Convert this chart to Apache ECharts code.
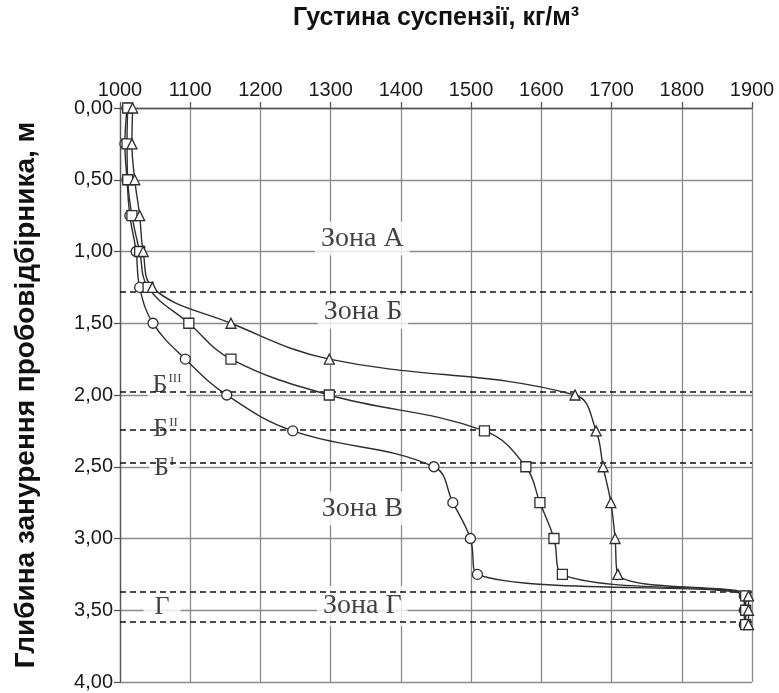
<!DOCTYPE html>
<html>
<head>
<meta charset="utf-8">
<script src="https://cdn.jsdelivr.net/npm/echarts@6/dist/echarts.min.js"></script>
<style>
html,body{margin:0;padding:0;background:#fff;}
#chart{width:779px;height:693px;}
</style>
</head>
<body>
<div id="chart"></div>
<script>
// Depth of sampler immersion, m
const depths = [0, 0.25, 0.5, 0.75, 1.0, 1.25, 1.5, 1.75, 2.0, 2.25, 2.5, 2.75, 3.0, 3.25, 3.4, 3.5, 3.6];
// Suspension density, kg/m3
const densityTriangle = [1018, 1017, 1021, 1028, 1033, 1046, 1158, 1298, 1648, 1678, 1688, 1699, 1705, 1709, 1895, 1895, 1895];
const densitySquare   = [1011, 1010, 1011, 1017, 1028, 1040, 1098, 1158, 1298, 1519, 1578, 1598, 1618, 1630, 1891, 1891, 1891];
const densityCircle   = [1010, 1007, 1010, 1014, 1023, 1028, 1047, 1093, 1152, 1246, 1447, 1474, 1499, 1509, 1889, 1889, 1889];
// Zone boundaries (depth, m)
const boundaries = [1.28, 1.98, 2.24, 2.47, 3.37, 3.58];
// Zone labels: [text, density, depth]
const zoneLabels = [
  ['Зона А', 1345, 0.91],
  ['Зона Б', 1346, 1.42],
  ['Зона В', 1345, 2.79],
  ['Зона Г', 1345, 3.47]
];
const subLabels = [
  ['{b|Б}{s|III}', 1067, 1.93],
  ['{b|Б}{s|II}', 1065, 2.24],
  ['{b|Б}{s|I}', 1063, 2.51],
  ['{b|Г}', 1060, 3.48]
];
const xTitle = 'Густина суспензії, кг/м³';
const yTitle = 'Глибина занурення пробовідбірника, м';

const zip = (xs) => xs.map((v, i) => [v, depths[i]]);

const lineColor = '#2e2e2e';
function dataSeries(vals, symbol, size) {
  return {
    type: 'line',
    data: zip(vals),
    smooth: 0.4,
    symbol: symbol,
    symbolSize: size,
    showAllSymbol: true,
    z: 5,
    lineStyle: { color: lineColor, width: 1.4 },
    itemStyle: { color: '#fff', borderColor: lineColor, borderWidth: 1.3 }
  };
}

const chart = echarts.init(document.getElementById('chart'));
const axisFont = { fontFamily: 'Liberation Sans', fontSize: 20, color: '#1a1a1a' };
chart.setOption({
  animation: false,
  backgroundColor: '#fff',
  grid: { left: 120, top: 108, width: 632, height: 574 },
  xAxis: {
    type: 'value', position: 'top', min: 1000, max: 1900, interval: 100,
    name: xTitle, nameLocation: 'middle', nameGap: 77,
    nameTextStyle: { fontFamily: 'Liberation Sans', fontSize: 25, fontWeight: 'bold', color: '#111' },
    axisLine: { show: true, lineStyle: { color: '#555', width: 1.3 } },
    axisTick: { show: true, length: 6, lineStyle: { color: '#555', width: 1.3 } },
    axisLabel: Object.assign({ margin: 8, formatter: v => String(v) }, axisFont),
    splitLine: { show: true, lineStyle: { color: '#8a8a8a', width: 1.3 } }
  },
  yAxis: {
    type: 'value', inverse: true, min: 0, max: 4, interval: 0.5,
    name: yTitle, nameLocation: 'middle', nameGap: 80,
    nameTextStyle: { fontFamily: 'Liberation Sans', fontSize: 28, fontWeight: 'bold', color: '#111' },
    axisLine: { show: true, lineStyle: { color: '#555', width: 1.3 } },
    axisTick: { show: true, length: 6, lineStyle: { color: '#555', width: 1.3 } },
    axisLabel: Object.assign({ margin: 7, formatter: v => v.toFixed(2).replace('.', ',') }, axisFont),
    splitLine: { show: true, lineStyle: { color: '#8a8a8a', width: 1.3 } }
  },
  series: [
    {
      type: 'scatter', data: [[1000, 0]], symbolSize: 0, z: 2, silent: true,
      markLine: {
        silent: true, symbol: 'none', label: { show: false },
        lineStyle: { color: '#111', width: 1.5, type: [6, 4] },
        data: boundaries.map(b => ({ yAxis: b }))
      }
    },
    {
      type: 'scatter', z: 3, symbolSize: 0, silent: true,
      data: zoneLabels.map((z, i) => ({
        value: [z[1], z[2]], name: z[0],
        label: i === 3 ? { padding: [6, 6] } : undefined
      })),
      label: {
        show: true, position: 'inside', formatter: p => p.name,
        fontFamily: 'Liberation Serif', fontSize: 28, color: '#111',
        backgroundColor: '#fff', padding: [3, 6]
      }
    },
    {
      type: 'scatter', z: 3, symbolSize: 0, silent: true,
      data: subLabels.map((z, i) => ({
        value: [z[1], z[2]], name: z[0],
        label: i === 3 ? { padding: [0, 11] } : undefined
      })),
      label: {
        show: true, position: 'inside', formatter: p => p.name,
        backgroundColor: '#fff', padding: [1, 5],
        rich: {
          b: { fontFamily: 'Liberation Serif', fontSize: 26, color: '#111', lineHeight: 26 },
          s: { fontFamily: 'Liberation Serif', fontSize: 13, color: '#111', verticalAlign: 'top', lineHeight: 26, padding: [0, 0, 10, 1] }
        }
      }
    },
    dataSeries(densityCircle, 'circle', 10),
    dataSeries(densitySquare, 'rect', 10),
    dataSeries(densityTriangle, 'triangle', 10)
  ]
});
</script>
</body>
</html>
